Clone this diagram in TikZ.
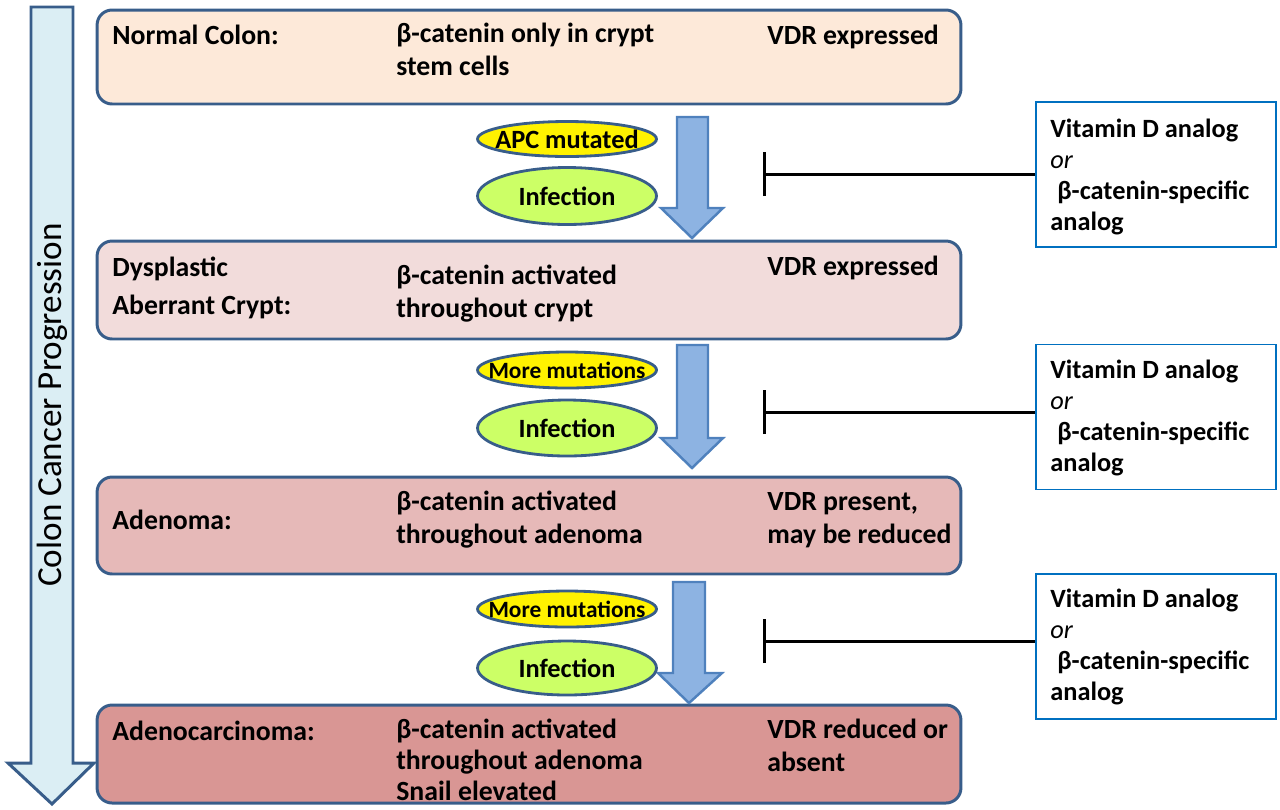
\documentclass[tikz,border=0pt]{standalone}
\usepackage{fontspec}
\setmainfont{Carlito}
\usepackage{tikz}
\usetikzlibrary{shapes.geometric}
\usetikzlibrary{arrows.meta}
\definecolor{edgeblue}{HTML}{385D8A}
\definecolor{drugblue}{HTML}{0070C0}
\definecolor{flowedge}{HTML}{4F81BD}
\definecolor{flowfill}{HTML}{8DB3E2}
\definecolor{progfill}{HTML}{DBEEF4}
\definecolor{normalfill}{HTML}{FDE9D9}
\definecolor{dysfill}{HTML}{F2DCDB}
\definecolor{adenfill}{HTML}{E6B9B8}
\definecolor{carcfill}{HTML}{D99694}
\definecolor{infgreen}{HTML}{CCFF66}
\tikzset{stage/.style={draw=edgeblue, line width=1.7pt, rounded corners=0.3cm, minimum width=17.28cm, inner sep=0pt}}
\tikzset{txt/.style={anchor=base west, align=left, inner sep=0pt, font=\fontsize{15.8}{18.7}\selectfont\bfseries}}
\tikzset{cause/.style={ellipse, draw=edgeblue, line width=1.6pt, minimum width=3.58cm, inner sep=0pt, font=\fontsize{15}{18}\selectfont\bfseries}}
\tikzset{drug/.style={draw=drugblue, line width=1.1pt, minimum width=4.8cm, minimum height=2.9cm, inner sep=0pt}}
\tikzset{drugtxt/.style={anchor=base west, align=left, inner sep=0pt, font=\fontsize{15}{17.6}\selectfont\bfseries}}
\tikzset{inhibit/.style={{Bar[width=8.8mm]}-, line width=1.7pt}}
\tikzset{flow/.style={draw=flowedge, fill=flowfill, line width=1.4pt, line join=miter}}

\begin{document}
\begin{tikzpicture}[x=0.02cm, y=-0.02cm]
  \useasboundingbox (0,0) rectangle (1280,809);

  % progression arrow
  \draw[draw=edgeblue, fill=progfill, line width=1.7pt, line join=miter]
    (31,7) -- (73,7) -- (73,763) -- (94,763) -- (52,804) -- (8,763) -- (31,763) -- cycle;
  \node[rotate=90, font=\fontsize{20}{24}\selectfont] (prog) at (52,405) {Colon Cancer Progression};

  % stages
  \node[stage, fill=normalfill, minimum height=1.88cm] (normal) at (529,57) {};
  \node[stage, fill=dysfill, minimum height=1.96cm] (dys) at (529,290) {};
  \node[stage, fill=adenfill, minimum height=1.94cm] (aden) at (529,525.5) {};
  \node[stage, fill=carcfill, minimum height=1.96cm] (carc) at (529,754) {};

  % multi-line texts sit on their last baseline
  \node[txt] (nlab) at (112,44) {Normal Colon:};
  \node[txt] (nbeta) at (396,75) {β-catenin only in crypt\\stem cells};
  \node[txt] (nvdr) at (767,44) {VDR expressed};

  \node[txt] (dlab) at (112,314) {Dysplastic\\[2.8pt]Aberrant Crypt:};
  \node[txt] (dbeta) at (396,317) {β-catenin activated\\throughout crypt};
  \node[txt] (dvdr) at (767,275) {VDR expressed};

  \node[txt] (alab) at (112,529) {Adenoma:};
  \node[txt] (abeta) at (396,543) {β-catenin activated\\throughout adenoma};
  \node[txt] (avdr) at (767,543) {VDR present,\\may be reduced};

  \node[txt] (clab) at (112,740) {Adenocarcinoma:};
  \node[txt, font=\fontsize{15.8}{17.6}\selectfont\bfseries] (cbeta) at (396,800) {β-catenin activated\\throughout adenoma\\Snail elevated};
  \node[txt] (cvdr) at (767,771) {VDR reduced or\\absent};

  % step arrows
  \draw[flow] (677,117) -- (708,117) -- (708,208) -- (723,208) -- (692,238) -- (661,208) -- (677,208) -- cycle;
  \draw[flow] (677,345) -- (708,345) -- (708,438) -- (723,438) -- (692,468) -- (661,438) -- (677,438) -- cycle;
  \draw[flow] (673,582) -- (705,582) -- (705,673) -- (722,673) -- (689,703) -- (658,673) -- (673,673) -- cycle;

  % causes
  \node[cause, fill=yellow, minimum height=0.7cm] (apc) at (567,139) {\makebox[0pt]{APC mutated}};
  \node[cause, fill=infgreen, minimum height=1.14cm] (inf1) at (567,196) {Infection};
  \node[cause, fill=yellow, minimum height=0.72cm, font=\fontsize{13.3}{16}\selectfont\bfseries] (mut2) at (567,370) {\makebox[0pt]{More mutations}};
  \node[cause, fill=infgreen, minimum height=1.12cm] (inf2) at (567,428) {Infection};
  \node[cause, fill=yellow, minimum height=0.72cm, font=\fontsize{13.3}{16}\selectfont\bfseries] (mut3) at (567,609) {\makebox[0pt]{More mutations}};
  \node[cause, fill=infgreen, minimum height=1.08cm] (inf3) at (567,668) {Infection};

  % treatments
  \node[drug] (drug1) at (1156,174.5) {};
  \node[drug] (drug2) at (1156,417) {};
  \node[drug] (drug3) at (1156,646.5) {};

  \node[drugtxt] (d1txt) at (1050,230) {Vitamin D analog\\\textit{\mdseries or}\\\hspace*{0.14cm}β-catenin-specific\\analog};
  \node[drugtxt] (d2txt) at (1050,471) {Vitamin D analog\\\textit{\mdseries or}\\\hspace*{0.14cm}β-catenin-specific\\analog};
  \node[drugtxt] (d3txt) at (1050,700) {Vitamin D analog\\\textit{\mdseries or}\\\hspace*{0.14cm}β-catenin-specific\\analog};

  \coordinate (block1) at (763,174);
  \coordinate (block2) at (763,412);
  \coordinate (block3) at (763,641);
  \draw[inhibit] (block1) -- (block1 -| drug1.west);
  \draw[inhibit] (block2) -- (block2 -| drug2.west);
  \draw[inhibit] (block3) -- (block3 -| drug3.west);
\end{tikzpicture}
\end{document}
